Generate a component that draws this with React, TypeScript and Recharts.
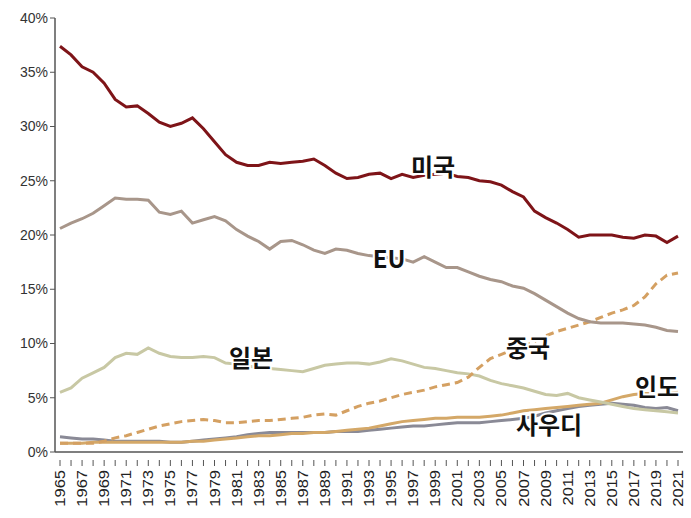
import { LineChart, Line, XAxis, YAxis } from "recharts";

const YEARS = [
  1965, 1966, 1967, 1968, 1969, 1970, 1971, 1972, 1973, 1974, 1975, 1976, 1977, 1978, 1979,
  1980, 1981, 1982, 1983, 1984, 1985, 1986, 1987, 1988, 1989, 1990, 1991, 1992, 1993, 1994,
  1995, 1996, 1997, 1998, 1999, 2000, 2001, 2002, 2003, 2004, 2005, 2006, 2007, 2008, 2009,
  2010, 2011, 2012, 2013, 2014, 2015, 2016, 2017, 2018, 2019, 2020, 2021,
];

const US = [
  37.4, 36.6, 35.5, 35.0, 34.0, 32.5, 31.8, 31.9, 31.2, 30.4, 30.0, 30.3, 30.8, 29.8, 28.6,
  27.4, 26.7, 26.4, 26.4, 26.7, 26.6, 26.7, 26.8, 27.0, 26.4, 25.7, 25.2, 25.3, 25.6, 25.7,
  25.2, 25.6, 25.3, 25.5, 25.6, 25.7, 25.4, 25.3, 25.0, 24.9, 24.6, 24.0, 23.5, 22.2, 21.6,
  21.1, 20.5, 19.8, 20.0, 20.0, 20.0, 19.8, 19.7, 20.0, 19.9, 19.3, 19.9,
];

const EU = [
  20.6, 21.1, 21.5, 22.0, 22.7, 23.4, 23.3, 23.3, 23.2, 22.1, 21.9, 22.2, 21.1, 21.4, 21.7,
  21.3, 20.5, 19.9, 19.4, 18.7, 19.4, 19.5, 19.1, 18.6, 18.3, 18.7, 18.6, 18.3, 18.1, 18.0,
  17.9, 17.8, 17.5, 18.0, 17.5, 17.0, 17.0, 16.6, 16.2, 15.9, 15.7, 15.3, 15.1, 14.6, 14.0,
  13.4, 12.8, 12.3, 12.0, 11.9, 11.9, 11.9, 11.8, 11.7, 11.5, 11.2, 11.1,
];

const JAPAN = [
  5.5, 5.9, 6.8, 7.3, 7.8, 8.7, 9.1, 9.0, 9.6, 9.1, 8.8, 8.7, 8.7, 8.8, 8.7,
  8.2, 8.1, 7.9, 7.8, 7.7, 7.6, 7.5, 7.4, 7.7, 8.0, 8.1, 8.2, 8.2, 8.1, 8.3,
  8.6, 8.4, 8.1, 7.8, 7.7, 7.5, 7.3, 7.2, 7.0, 6.6, 6.3, 6.1, 5.9, 5.6, 5.3,
  5.2, 5.4, 5.0, 4.8, 4.6, 4.4, 4.2, 4.0, 3.9, 3.8, 3.7, 3.6,
];

const CHINA = [
  0.8, 0.8, 0.8, 0.8, 1.0, 1.3, 1.5, 1.8, 2.1, 2.4, 2.6, 2.8, 2.9, 3.0, 2.9,
  2.7, 2.7, 2.8, 2.9, 2.9, 3.0, 3.1, 3.2, 3.4, 3.5, 3.4, 3.8, 4.2, 4.5, 4.7,
  5.0, 5.3, 5.5, 5.7, 6.0, 6.2, 6.4, 6.9, 7.8, 8.6, 9.0, 9.4, 9.8, 10.2, 10.7,
  11.1, 11.4, 11.7, 12.0, 12.4, 12.8, 13.1, 13.5, 14.3, 15.5, 16.3, 16.5,
];

const INDIA = [
  0.8, 0.8, 0.8, 0.9, 0.9, 0.9, 0.9, 0.9, 0.9, 0.9, 0.9, 0.9, 1.0, 1.0, 1.1,
  1.2, 1.3, 1.4, 1.5, 1.5, 1.6, 1.7, 1.7, 1.8, 1.8, 1.9, 2.0, 2.1, 2.2, 2.4,
  2.6, 2.8, 2.9, 3.0, 3.1, 3.1, 3.2, 3.2, 3.2, 3.3, 3.4, 3.6, 3.8, 3.9, 4.0,
  4.1, 4.2, 4.3, 4.4, 4.5, 4.8, 5.1, 5.3, 5.4, 5.4, 5.4, 5.5,
];

const SAUDI = [
  1.4, 1.3, 1.2, 1.2, 1.1, 1.0, 1.0, 1.0, 1.0, 1.0, 0.9, 0.9, 1.0, 1.1, 1.2,
  1.3, 1.4, 1.6, 1.7, 1.8, 1.8, 1.8, 1.8, 1.8, 1.8, 1.9, 1.9, 1.9, 2.0, 2.1,
  2.2, 2.3, 2.4, 2.4, 2.5, 2.6, 2.7, 2.7, 2.7, 2.8, 2.9, 3.0, 3.1, 3.3, 3.6,
  3.8, 4.0, 4.2, 4.3, 4.4, 4.5, 4.4, 4.3, 4.1, 4.0, 4.1, 3.8,
];

const Y_TICKS = [0, 5, 10, 15, 20, 25, 30, 35, 40];

const LABELS = [
  { text: "미국", x: 433, y: 176 },
  { text: "EU", x: 389, y: 268 },
  { text: "일본", x: 251, y: 367 },
  { text: "중국", x: 528, y: 357 },
  { text: "인도", x: 657, y: 396 },
  { text: "사우디", x: 549, y: 434 },
];

const data = YEARS.map((year, i) => ({
  year,
  us: US[i],
  eu: EU[i],
  japan: JAPAN[i],
  china: CHINA[i],
  india: INDIA[i],
  saudi: SAUDI[i],
}));

function YearTick({ x, y, payload, index }: any) {
  return (
    <g transform={`translate(${x},${y})`}>
      <line x1={0} y1={0} x2={0} y2={6} stroke="#555" strokeWidth={1} />
      {index % 2 === 0 && (
        <text
          transform="translate(5,10) rotate(-90) scale(1.1,1)"
          textAnchor="end"
          fontSize={15}
          fill="#222"
          fontFamily="'Liberation Sans', Arial, sans-serif"
        >
          {payload.value}
        </text>
      )}
    </g>
  );
}

export default function App() {
  return (
    <div style={{ position: "absolute", left: 0, top: 0, width: 691, height: 518, background: "#fff" }}>
      <LineChart width={691} height={518} data={data} margin={{ top: 18, right: 8, bottom: 6, left: 0 }}>
        <XAxis
          dataKey="year"
          type="number"
          domain={[1965, 2021]}
          ticks={YEARS}
          interval={0}
          padding={{ left: 5, right: 5 }}
          height={60}
          axisLine={{ stroke: "#555", strokeWidth: 1.5 }}
          tickLine={false}
          tick={<YearTick />}
        />
        <YAxis
          domain={[0, 40]}
          ticks={Y_TICKS}
          width={55}
          tickFormatter={(v) => `${v}%`}
          axisLine={{ stroke: "#555", strokeWidth: 1.5 }}
          tickLine={{ stroke: "#555" }}
          tickSize={5}
          tick={{ fill: "#333", fontSize: 14, fontFamily: "'Liberation Sans Narrow', 'Liberation Sans', Arial, sans-serif" }}
        />
        <Line dataKey="saudi" stroke="#8a8a96" strokeWidth={3} dot={false} isAnimationActive={false} />
        <Line dataKey="india" stroke="#d4a868" strokeWidth={3} dot={false} isAnimationActive={false} />
        <Line dataKey="japan" stroke="#c8c8a4" strokeWidth={3} dot={false} isAnimationActive={false} />
        <Line dataKey="china" stroke="#d4a062" strokeWidth={3} strokeDasharray="8 5" dot={false} isAnimationActive={false} />
        <Line dataKey="eu" stroke="#a8968a" strokeWidth={3} dot={false} isAnimationActive={false} />
        <Line dataKey="us" stroke="#7e1418" strokeWidth={3} dot={false} isAnimationActive={false} />
      </LineChart>
      {/* series names sit on top of the lines */}
      <svg width={691} height={518} style={{ position: "absolute", left: 0, top: 0, pointerEvents: "none" }}>
        {LABELS.map((l) => (
          <text
            key={l.text}
            x={l.x}
            y={l.y}
            textAnchor="middle"
            fontSize={24}
            fontWeight={700}
            fill="#111"
            stroke="#fff"
            strokeWidth={4}
            paintOrder="stroke"
            fontFamily="'Noto Sans CJK KR', 'Noto Sans', sans-serif"
          >
            {l.text}
          </text>
        ))}
      </svg>
    </div>
  );
}
